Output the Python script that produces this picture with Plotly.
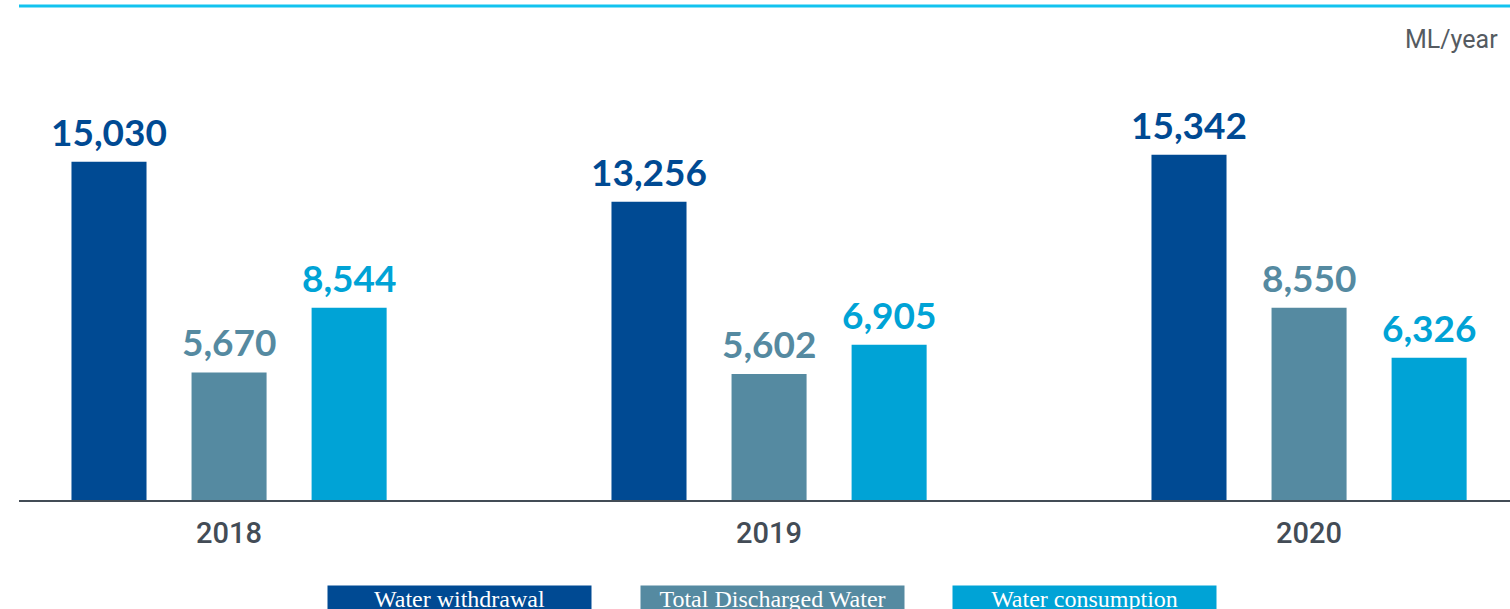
import plotly.graph_objects as go

years = ["2018", "2019", "2020"]
series_names = ["Water withdrawal", "Total Discharged Water", "Water consumption"]
withdrawal = [15030, 13256, 15342]
discharged = [5670, 5602, 8550]
consumption = [8544, 6905, 6326]
unit_label = "ML/year"

colors = ["#004a93", "#558aa1", "#00a3d6"]
series_values = [withdrawal, discharged, consumption]

W, H = 1510, 609
m_l, m_r, m_t, m_b = 19, 0, 109, 109
plot_w = W - m_l - m_r
plot_h = H - m_t - m_b
px_per_cat = 540
bargap = 0.333
slot_px = (1 - bargap) / 3 * px_per_cat

fig = go.Figure()
for i, (name, vals, col) in enumerate(zip(series_names, series_values, colors)):
    fig.add_trace(go.Bar(
        x=years, y=vals, name=name,
        marker=dict(color=col, line=dict(width=0)),
        hoverinfo="skip",
    ))
    # value labels above each bar (x given as category index)
    for j, v in enumerate(vals):
        fig.add_annotation(
            x=j, y=v, xref="x", yref="y",
            text=f"{v:,}", showarrow=False,
            xanchor="center", yanchor="bottom",
            xshift=(i - 1) * slot_px, yshift=6,
            font=dict(family="Lato", size=37, color=col, weight="bold"),
        )

# legend drawn as coloured boxes below the chart
legend_centers = [459, 772, 1084]
for name, col, cx in zip(series_names, colors, legend_centers):
    fig.add_annotation(
        xref="paper", yref="paper",
        x=(cx - m_l) / plot_w, y=-(585 - (H - m_b)) / plot_h,
        xanchor="center", yanchor="top",
        text=name, showarrow=False,
        width=263, height=34, bgcolor=col, borderpad=0,
        valign="top",
        font=dict(family="Liberation Serif", size=24, color="white"),
    )

fig.add_annotation(
    xref="paper", yref="paper", x=1, y=(H - m_b - 40) / plot_h,
    xanchor="right", yanchor="middle", xshift=-10,
    text=unit_label, showarrow=False,
    font=dict(family="Roboto", size=25, color="#555b61"),
)

# cyan rule at the top
fig.add_shape(
    type="line", xref="paper", yref="paper",
    x0=0, x1=1, y0=(H - m_b - 6) / plot_h, y1=(H - m_b - 6) / plot_h,
    line=dict(color="#12c3ef", width=3),
)

fig.update_layout(
    width=W, height=H,
    margin=dict(l=m_l, r=m_r, t=m_t, b=m_b),
    plot_bgcolor="white", paper_bgcolor="white",
    barmode="group", bargap=bargap, bargroupgap=0.375,
    showlegend=False,
    xaxis=dict(
        type="category",
        range=[-0.389, -0.389 + plot_w / px_per_cat],
        showline=True, linecolor="#434c56", linewidth=2,
        showgrid=False, ticks="", ticklabelstandoff=6,
        tickfont=dict(family="Roboto", size=29, color="#434c56", weight=500),
    ),
    yaxis=dict(
        range=[0, plot_h / 0.0225], visible=False, showgrid=False,
    ),
)

fig.write_html("out.html", config={"displayModeBar": False},
               post_script="document.body.style.margin='0';")
